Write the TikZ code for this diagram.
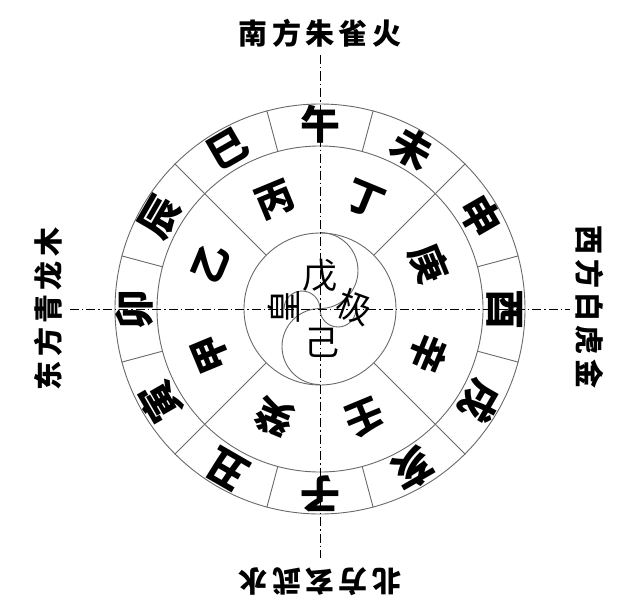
\documentclass[tikz,border=0pt]{standalone}
\usepackage{fontspec}
\usetikzlibrary{positioning}
\newfontfamily\cjk{Noto Sans CJK SC}
\newfontfamily\cjklabel{Noto Sans CJK SC}[LetterSpace=15]
\definecolor{ringcolor}{RGB}{105, 105, 105}

\begin{document}
\begin{tikzpicture}[x=1pt, y=1pt,
    ring/.style={circle, draw=ringcolor, line width=0.9pt, inner sep=0pt},
    spoke/.style={draw=ringcolor, line width=0.9pt},
    axisline/.style={line width=0.7pt, dash pattern=on 9pt off 3pt on 1.5pt off 3pt},
    branch/.style={font=\cjk\bfseries\fontsize{40}{40}\selectfont, inner sep=0pt},
    stem/.style={font=\cjk\bfseries\fontsize{38}{38}\selectfont, inner sep=0pt},
    centre/.style={font=\cjk\fontsize{35}{35}\selectfont, inner sep=0pt},
    quarter/.style={font=\cjklabel\bfseries\fontsize{29}{29}\selectfont, inner sep=0pt}]
    \useasboundingbox (-320, -291) rectangle (297, 309);

    % Rings
    \node[ring, minimum size=410pt] (outer) at (0, 0) {};
    \node[ring, minimum size=326pt] (mid) at (0, 0) {};
    \node[ring, minimum size=152pt] (inner) at (0, 0) {};

    % Twelve branch cells
    \draw[spoke] (mid.15) -- (outer.15);
    \draw[spoke] (mid.45) -- (outer.45);
    \draw[spoke] (mid.75) -- (outer.75);
    \draw[spoke] (mid.105) -- (outer.105);
    \draw[spoke] (mid.135) -- (outer.135);
    \draw[spoke] (mid.165) -- (outer.165);
    \draw[spoke] (mid.195) -- (outer.195);
    \draw[spoke] (mid.225) -- (outer.225);
    \draw[spoke] (mid.255) -- (outer.255);
    \draw[spoke] (mid.285) -- (outer.285);
    \draw[spoke] (mid.315) -- (outer.315);
    \draw[spoke] (mid.345) -- (outer.345);

    % Four stem cells
    \draw[spoke] (inner.45) -- (mid.45);
    \draw[spoke] (inner.135) -- (mid.135);
    \draw[spoke] (inner.225) -- (mid.225);
    \draw[spoke] (inner.315) -- (mid.315);

    % Taiji curve
    \draw[ringcolor, line width=0.9pt] (inner.90) arc[start angle=90, end angle=-90, radius=38]
        arc[start angle=90, end angle=270, radius=38];
    \draw[ringcolor, line width=0.9pt] (-36, 0) arc[start angle=180, end angle=0, radius=18]
        arc[start angle=180, end angle=360, radius=18];

    % Axes
    \coordinate (southEnd) at (0, 254);
    \coordinate (northEnd) at (0, -249);
    \coordinate (eastEnd) at (-250, 0);
    \coordinate (westEnd) at (250, 0);
    \draw[axisline] (southEnd) -- (northEnd);
    \draw[axisline] (eastEnd) -- (westEnd);

    % Earthly branches
    \node[branch, rotate=0] (wu) at (90:185) {午};
    \node[branch, rotate=-30] (wei) at (60:185) {未};
    \node[branch, rotate=-60] (shen) at (30:185) {申};
    \node[branch, rotate=-90] (you) at (0:185) {酉};
    \node[branch, rotate=-120] (xu) at (-30:185) {戌};
    \node[branch, rotate=-150] (hai) at (-60:185) {亥};
    \node[branch, rotate=180] (zi) at (-90:185) {子};
    \node[branch, rotate=150] (chou) at (-120:185) {丑};
    \node[branch, rotate=120] (yin) at (-150:185) {寅};
    \node[branch, rotate=90] (mao) at (180:185) {卯};
    \node[branch, rotate=60] (chen) at (150:185) {辰};
    \node[branch, rotate=30] (si) at (120:185) {巳};

    % Heavenly stems
    \node[stem, rotate=22.5] (bing) at (112.5:118) {丙};
    \node[stem, rotate=-22.5] (ding) at (67.5:118) {丁};
    \node[stem, rotate=-67.5] (geng) at (22.5:118) {庚};
    \node[stem, rotate=-112.5] (xin) at (-22.5:118) {辛};
    \node[stem, rotate=-157.5] (ren) at (-67.5:118) {壬};
    \node[stem, rotate=157.5] (gui) at (-112.5:118) {癸};
    \node[stem, rotate=112.5] (jia) at (-157.5:118) {甲};
    \node[stem, rotate=67.5] (yi) at (157.5:118) {乙};

    % Centre
    \node[centre] (wuT) at (0, 33) {戊};
    \node[centre] (jiT) at (2, -34) {己};
    \node[centre, rotate=90] (huang) at (-36, 2) {皇};
    \node[centre, rotate=-20] (jiPole) at (34, 2) {极};

    % Quarters
    \node[quarter] (south) at (0, 276) {南方朱雀火};
    \node[quarter, rotate=180] (north) at (0, -273) {北方玄武水};
    \node[quarter, rotate=90] (east) at (-272, 0) {东方青龙木};
    \node[quarter, rotate=-90] (west) at (270, 2) {西方白虎金};
\end{tikzpicture}
\end{document}
